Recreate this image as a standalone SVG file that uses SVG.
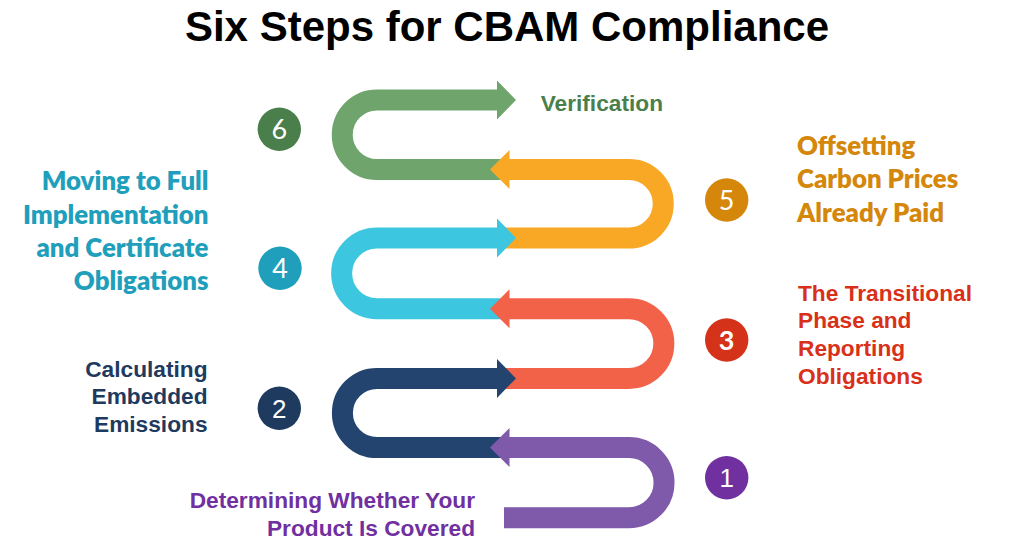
<svg xmlns="http://www.w3.org/2000/svg" width="1033" height="550" viewBox="0 0 1033 550">
<style>
.band{fill:none;stroke-width:21;stroke-linecap:butt;stroke-linejoin:miter}
.ar{font-family:"Liberation Sans",Arial,sans-serif;font-weight:bold;font-size:22.7px}
.ca{font-family:Lato,"Open Sans",sans-serif;font-weight:800;font-size:25.8px}
.num{font-family:Lato,"Open Sans",sans-serif;font-size:27px;fill:#fff;text-anchor:middle}
.numa{font-family:"Liberation Sans",Arial,sans-serif;font-size:26px;fill:#fff;text-anchor:middle}
.title{font-family:"Liberation Sans",Arial,sans-serif;font-weight:bold;font-size:42px;fill:#000;text-anchor:middle}
</style>
<rect width="1033" height="550" fill="#fff"/>
<text class="title" x="507" y="41">Six Steps for CBAM Compliance</text>
<g id="connectors">
  <g id="band6">
    <path class="band" stroke="#6fa56d" d="M509 169.5 H377 A34.75 34.75 0 0 1 377 100 H497"/>
    <polygon fill="#6fa56d" points="497,80.5 516,100 497,119.5"/>
  </g>
  <g id="band5">
    <path class="band" stroke="#f9a825" d="M497 238 H629 A34.25 34.25 0 0 0 629 169.5 H509"/>
    <polygon fill="#f9a825" points="509.5,150 490,169.5 509.5,189"/>
  </g>
  <g id="band4">
    <path class="band" stroke="#3cc6e0" d="M509 308.7 H377 A35.35 35.35 0 0 1 377 238 H497"/>
    <polygon fill="#3cc6e0" points="497,218.5 516,238 497,257.5"/>
  </g>
  <g id="band3">
    <path class="band" stroke="#f26249" d="M497 378.4 H629 A34.85 34.85 0 0 0 629 308.7 H509"/>
    <polygon fill="#f26249" points="509.5,289.2 490,308.7 509.5,328.2"/>
  </g>
  <g id="band2">
    <path class="band" stroke="#23446e" d="M509 447.6 H377 A34.6 34.6 0 0 1 377 378.4 H497"/>
    <polygon fill="#23446e" points="497,358.9 516,378.4 497,397.9"/>
  </g>
  <g id="band1">
    <path class="band" stroke="#7f5aab" d="M504 517.7 H629 A35.05 35.05 0 0 0 629 447.6 H509"/>
    <polygon fill="#7f5aab" points="509.5,428.1 490,447.6 509.5,467.1"/>
  </g>
</g>
<g id="step1">
  <circle cx="726.7" cy="477.7" r="21.7" fill="#7030a0"/>
  <text class="numa" x="726.7" y="487">1</text>
  <text class="ar" fill="#7030a0" text-anchor="end" x="475"><tspan x="475" y="508.3">Determining Whether Your</tspan><tspan x="475" y="536">Product Is Covered</tspan></text>
</g>
<g id="step2">
  <circle cx="279.3" cy="408.3" r="21.7" fill="#1f3a5f"/>
  <text class="numa" x="279.3" y="417.6">2</text>
  <text class="ar" fill="#1f3a5f" text-anchor="end"><tspan x="207.5" y="376.7">Calculating</tspan><tspan x="207.5" y="404.3">Embedded</tspan><tspan x="207.5" y="431.7">Emissions</tspan></text>
</g>
<g id="step3">
  <circle cx="726.7" cy="340" r="21.7" fill="#d5321a"/>
  <text class="num" font-weight="bold" x="726.7" y="349.6">3</text>
  <text class="ar" fill="#d9301a"><tspan x="798" y="300.7">The Transitional</tspan><tspan x="798" y="328.3">Phase and</tspan><tspan x="798" y="356">Reporting</tspan><tspan x="798" y="383.5">Obligations</tspan></text>
</g>
<g id="step4">
  <circle cx="280" cy="268.3" r="21.7" fill="#1f9fbb"/>
  <text class="num" x="280" y="278">4</text>
  <text class="ca" fill="#1f9fbb" text-anchor="end"><tspan x="208.5" y="190">Moving to Full</tspan><tspan x="208.5" y="223.5">Implementation</tspan><tspan x="208.5" y="257">and Certificate</tspan><tspan x="208.5" y="290.3">Obligations</tspan></text>
</g>
<g id="step5">
  <circle cx="726.7" cy="200" r="21.7" fill="#d4870a"/>
  <text class="num" x="726.7" y="209.7">5</text>
  <text class="ca" fill="#d4870a"><tspan x="797" y="155">Offsetting</tspan><tspan x="797" y="188.3">Carbon Prices</tspan><tspan x="797" y="221.7">Already Paid</tspan></text>
</g>
<g id="step6">
  <circle cx="279.3" cy="129.3" r="21.7" fill="#4a7f4b"/>
  <text class="num" x="279.3" y="139">6</text>
  <text class="ar" fill="#4a7f4b" x="540.7" y="110.7">Verification</text>
</g>
</svg>
